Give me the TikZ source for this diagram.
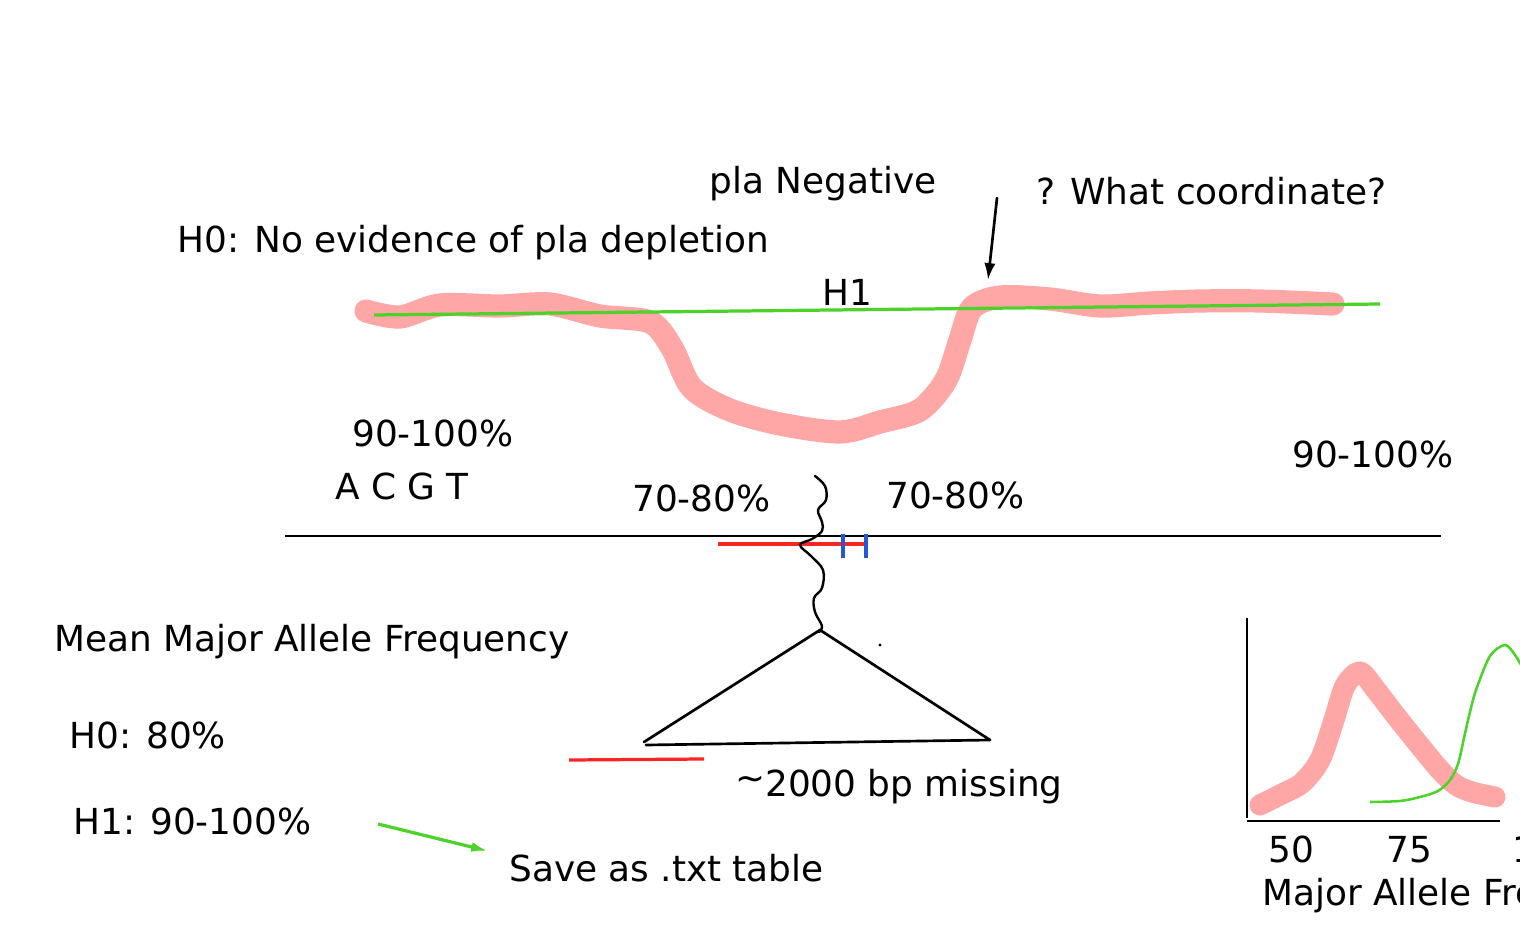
\documentclass[tikz,border=0pt]{standalone}
\usepackage{fontspec}
\setmainfont{DejaVu Sans}
\usetikzlibrary{arrows.meta}

\begin{document}
\begin{tikzpicture}[x=0.025cm, y=-0.025cm,
    lbl/.style={anchor=base west, inner sep=0pt, font=\fontsize{25.5}{30}\selectfont},
    cover/.style={line width=16.5pt, color=pinkcov, line cap=round, line join=round},
    fit/.style={line width=2.3pt, color=fitgreen},
    ink/.style={line width=1.9pt, black, line cap=round}]
    \definecolor{pinkcov}{HTML}{FFA6A6}
    \definecolor{fitgreen}{HTML}{4CD22A}
    \definecolor{delred}{HTML}{FF2424}
    \definecolor{tickblue}{HTML}{2458D0}
    \useasboundingbox (0,0) rectangle (1520,927);
    \clip (0,0) rectangle (1520,927);

    % coverage along the locus
    \draw[cover] plot[smooth, tension=0.5] coordinates {(366,311) (400,317) (440,305) (500,306) (550,304) (600,316) (650,322) (672,348) (692,388) (730,410) (780,424) (840,432) (880,422) (920,410) (946,380) (960,340) (972,308) (1000,297) (1050,299) (1100,306) (1150,303) (1200,301) (1260,301) (1333,304)};
    \draw[fit] (374,315) -- (1380,304);

    \node[lbl] (planeg) at (709,193) {pla Negative};
    \node[lbl] (where) at (1036,204) {? What coordinate?};
    \node[lbl] (hnull) at (177,252) {H0: No evidence of pla depletion};
    \node[lbl] (halt) at (822,305) {H1};
    \coordinate (askfrom) at (997,198);
    \coordinate (askto) at (988,280);
    \draw[ink, -{Latex[length=12pt,width=8pt]}] (askfrom) -- (askto);

    \node[lbl] (leftfreq) at (352,446) {90-100\%};
    \node[lbl] (bases) at (335,499) {A C G T};
    \node[lbl] (midleft) at (632,511) {70-80\%};
    \node[lbl] (midright) at (886,508) {70-80\%};
    \node[lbl] (rightfreq) at (1292,467) {90-100\%};

    % reference and the gap
    \draw[line width=2.1pt] (285,536) -- (1441,536);
    \draw[line width=2.3pt, delred] (718,544) -- (868,544);
    \draw[line width=2.3pt, tickblue] (843,534) -- (843,558);
    \draw[line width=2.3pt, tickblue] (866,534) -- (866,558);
    \draw[ink, line width=1.7pt] plot[smooth, tension=0.6] coordinates {(815,476) (825,486) (826,500) (818,510) (822,522) (822,531) (812,539) (800,545) (811,556) (823,570) (822,588) (814,598) (815,612) (822,626) (819,632)};

    \coordinate (apex) at (820,630);
    \coordinate (baseL) at (644,742);
    \coordinate (baseR) at (990,740);
    \draw[ink] (baseL) -- (apex) -- (baseR);
    \draw[ink] (646,745) -- (990,740);
    \fill (880,645) circle (1.6);
    \draw[line width=2.3pt, delred] (569,760) -- (704,759);
    \node[lbl] (missing) at (735,796) {\raisebox{0.15em}{\symbol{"007E}}2000 bp missing};

    \node[lbl] (meanmaf) at (54,651) {Mean Major Allele Frequency};
    \node[lbl] (nullval) at (69,748) {H0: 80\%};
    \node[lbl] (altval) at (73,834) {H1: 90-100\%};
    \node[lbl] (save) at (509,881) {Save as .txt table};
    \coordinate (savefrom) at (378,824);
    \coordinate (saveto) at (488,851);
    \draw[fit, -{Latex[length=12pt,width=7pt]}] (savefrom) -- (saveto);

    % histogram sketch
    \draw[line width=2.1pt] (1247,618) -- (1247,818);
    \draw[line width=2.1pt] (1247,821) -- (1500,821);
    \draw[cover, line width=15pt] plot[smooth, tension=0.5] coordinates {(1260,805) (1282,794) (1302,783) (1320,760) (1334,720) (1345,686) (1360,672) (1376,690) (1396,716) (1420,746) (1440,770) (1456,785) (1472,792) (1495,797)};
    \draw[fit, line width=1.8pt] plot[smooth, tension=0.5] coordinates {(1370,802) (1400,801) (1420,797) (1438,791) (1450,780) (1458,764) (1464,738) (1469,716) (1476,690) (1490,656) (1505,645) (1515,655) (1525,672)};
    \node[lbl] (tickA) at (1268,862) {50};
    \node[lbl] (tickB) at (1386,862) {75};
    \node[lbl] (tickC) at (1512,862) {100};
    \node[lbl] (xlabel) at (1262,905) {Major Allele Frequency};
\end{tikzpicture}
\end{document}
